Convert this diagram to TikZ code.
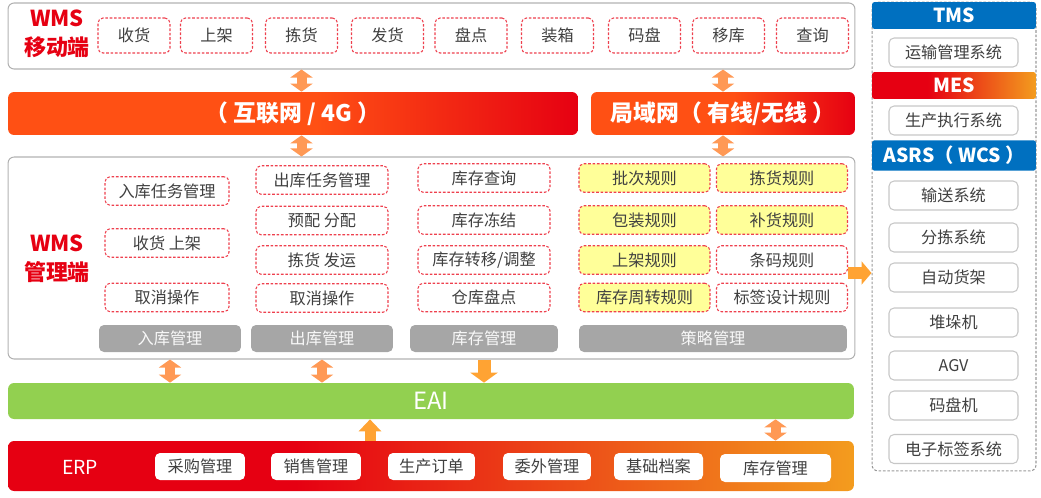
\documentclass[tikz,border=0pt]{standalone}
\usepackage{fontspec}
\setmainfont{Noto Sans CJK SC}
\usetikzlibrary{arrows.meta}

\definecolor{wmsred}{RGB}{230,0,18}
\definecolor{netorange}{RGB}{255,80,20}
\definecolor{erporange}{RGB}{243,156,30}
\definecolor{dashred}{RGB}{238,64,78}
\definecolor{boxtext}{RGB}{64,64,64}
\definecolor{panelgray}{RGB}{178,178,178}
\definecolor{tabgray}{RGB}{166,166,166}
\definecolor{ruleyellow}{RGB}{255,255,153}
\definecolor{eaigreen}{RGB}{146,208,80}
\definecolor{tmsblue}{RGB}{0,112,192}
\definecolor{twinarrow}{RGB}{255,153,85}
\definecolor{onearrow}{RGB}{255,163,51}

\pgfdeclarehorizontalshading{netshade}{100bp}{color(0bp)=(netorange); color(25bp)=(netorange); color(52bp)=(netorange); color(75bp)=(wmsred); color(100bp)=(wmsred)}
\pgfdeclarehorizontalshading{erpshade}{100bp}{color(0bp)=(wmsred); color(25bp)=(wmsred); color(42bp)=(wmsred); color(75bp)=(erporange); color(100bp)=(erporange)}

\begin{document}
\begin{tikzpicture}[
    x=0.02cm, y=-0.02cm,
    every node/.style={font=\fontsize{9.2}{11}\selectfont, text=boxtext},
    panel/.style={draw=panelgray, line width=0.6pt, rounded corners=0.12cm, minimum width=16.94cm},
    headtext/.style={font=\fontsize{12.5}{16.5}\selectfont\bfseries, text=wmsred, align=center},
    opbox/.style={draw=dashred, line width=0.6pt, dash pattern=on 1.5pt off 1pt, rounded corners=0.1cm, fill=white, minimum width=1.44cm, minimum height=0.70cm},
    taskbox/.style={opbox, minimum height=0.57cm},
    rulebox/.style={taskbox, fill=ruleyellow, minimum width=2.62cm},
    tabbar/.style={fill=tabgray, rounded corners=0.1cm, minimum height=0.54cm, text=white!95!gray},
    netbar/.style={shading=netshade, rounded corners=0.12cm, minimum height=0.86cm, font=\fontsize{13}{15}\selectfont\bfseries, text=white},
    erpbox/.style={fill=white, rounded corners=0.1cm, minimum height=0.54cm},
    syshead/.style={rounded corners=1.5pt, minimum width=3.28cm, minimum height=0.54cm, font=\fontsize{11}{13}\selectfont\bfseries, text=white},
    sysbox/.style={draw=black!22, line width=0.6pt, rounded corners=0.1cm, fill=white, minimum width=2.58cm, minimum height=0.58cm},
    fatboth/.style={draw=twinarrow, line width=0.2cm, {Triangle[width=0.44cm,length=0.16cm]}-{Triangle[width=0.44cm,length=0.16cm]}},
    fatone/.style={draw=onearrow, line width=0.24cm, -{Triangle[width=0.5cm,length=0.2cm]}}
]
\useasboundingbox (0,0) rectangle (1041,497);

% WMS mobile side
\node[panel, minimum height=1.32cm] (mobile) at (431.5,36) {};
\node[headtext] (mobiletitle) at (57,34) {WMS\\移动端};
\foreach \x/\t [count=\i] in {134/收货, 216.5/上架, 301.5/拣货, 387.5/发货, 471/盘点, 557.5/装箱, 644.5/码盘, 728.5/移库, 812.5/查询}
    \node[opbox] (m\i) at (\x,35.5) {\t};

% networks
\node[netbar, minimum width=11.4cm] (inet) at (293,113.5) {（ 互联网 / 4G ）};
\node[netbar, minimum width=5.28cm] (lan) at (723,113.5) {局域网（ 有线/无线 ）};

% WMS management side
\node[panel, minimum height=4.04cm] (wmsm) at (431.5,258) {};
\node[headtext] (wmsmtitle) at (57,259) {WMS\\管理端};

\node[taskbox, minimum width=2.48cm] (in1) at (167,191) {入库任务管理};
\node[taskbox, minimum width=2.48cm] (in2) at (167,243) {收货 上架};
\node[taskbox, minimum width=2.48cm] (in3) at (167,297.5) {取消操作};

\node[taskbox, minimum width=2.64cm] (out1) at (322,180) {出库任务管理};
\node[taskbox, minimum width=2.64cm] (out2) at (322,220.5) {预配 分配};
\node[taskbox, minimum width=2.64cm] (out3) at (322,260) {拣货 发运};
\node[taskbox, minimum width=2.64cm] (out4) at (322,298) {取消操作};

\node[taskbox, minimum width=2.64cm] (inv1) at (484,178) {库存查询};
\node[taskbox, minimum width=2.64cm] (inv2) at (484,220) {库存冻结};
\node[taskbox, minimum width=2.64cm] (inv3) at (484,260) {库存转移/调整};
\node[taskbox, minimum width=2.64cm] (inv4) at (484,297.5) {仓库盘点};

\node[rulebox] (r1) at (644.5,178) {批次规则};
\node[rulebox] (r2) at (782,178) {拣货规则};
\node[rulebox] (r3) at (644.5,220) {包装规则};
\node[rulebox] (r4) at (782,220) {补货规则};
\node[rulebox] (r5) at (644.5,260) {上架规则};
\node[taskbox, minimum width=2.62cm] (r6) at (782,260) {条码规则};
\node[rulebox] (r7) at (644.5,297.5) {库存周转规则};
\node[taskbox, minimum width=2.62cm] (r8) at (782,297.5) {标签设计规则};

\node[tabbar, minimum width=2.84cm] (t1) at (170,338.5) {入库管理};
\node[tabbar, minimum width=2.84cm] (t2) at (322,338.5) {出库管理};
\node[tabbar, minimum width=2.96cm] (t3) at (484,338.5) {库存管理};
\node[tabbar, minimum width=5.36cm] (t4) at (713,338.5) {策略管理};

% EAI and ERP
\node[fill=eaigreen, rounded corners=0.12cm, minimum width=16.92cm, minimum height=0.72cm, text=white, font=\fontsize{13.5}{15}\selectfont] (eai) at (431,401) {EAI};
\node[shading=erpshade, rounded corners=0.12cm, minimum width=16.92cm, minimum height=1.0cm] (erp) at (431,466) {};
\node[text=white, font=\fontsize{11}{13}\selectfont] (erptitle) at (80,467) {ERP};
\node[erpbox, minimum width=1.8cm] (e1) at (200,466.5) {采购管理};
\node[erpbox, minimum width=1.8cm] (e2) at (316,466.5) {销售管理};
\node[erpbox, minimum width=1.74cm] (e3) at (431.5,466.5) {生产订单};
\node[erpbox, minimum width=1.76cm] (e4) at (547,466.5) {委外管理};
\node[erpbox, minimum width=1.78cm] (e5) at (658.5,466.5) {基础档案};
\node[erpbox, minimum width=2.22cm, minimum height=0.56cm] (e6) at (775.5,468) {库存管理};

% external systems
\node[draw=black!40, line width=0.6pt, dash pattern=on 1.5pt off 1pt, rounded corners=0.12cm, minimum width=3.28cm, minimum height=9.38cm] (rcol) at (954,236.5) {};
\node[syshead, fill=tmsblue] (tms) at (954,15.5) {TMS};
\node[sysbox] (s1) at (953.5,52.5) {运输管理系统};
\node[syshead, shading=erpshade] (mes) at (954,85.5) {MES};
\node[sysbox] (s2) at (953.5,120.5) {生产执行系统};
\node[syshead, fill=tmsblue] (asrs) at (954,155.5) {ASRS（ WCS ）};
\node[sysbox] (s3) at (953.5,195.5) {输送系统};
\node[sysbox] (s4) at (953.5,237.5) {分拣系统};
\node[sysbox] (s5) at (953.5,277.5) {自动货架};
\node[sysbox] (s6) at (953.5,322.5) {堆垛机};
\node[sysbox] (s7) at (953.5,365.5) {AGV};
\node[sysbox] (s8) at (953.5,405.5) {码盘机};
\node[sysbox] (s9) at (953.5,449) {电子标签系统};

% connectors
\coordinate (upx) at (370,441);
\coordinate (handoff) at (848,273);

\draw[fatboth] (m3.south |- mobile.south) -- (m3.south |- inet.north);
\draw[fatboth] (lan.north |- mobile.south) -- (lan.north);
\draw[fatboth] (m3.south |- inet.south) -- (m3.south |- wmsm.north);
\draw[fatboth] (lan.south) -- (lan.south |- wmsm.north);

\draw[fatboth] (t1.south |- wmsm.south) -- (t1.south |- eai.north);
\draw[fatboth] (t2.south |- wmsm.south) -- (t2.south |- eai.north);
\draw[fatone, line width=0.26cm, -{Triangle[width=0.54cm,length=0.2cm]}] (t3.south |- wmsm.south) -- (t3.south |- eai.north);

\draw[fatone, line width=0.22cm, -{Triangle[width=0.44cm,length=0.24cm]}] (upx |- erp.north) -- (upx |- eai.south);
\draw[fatboth] (e6.north |- erp.north) -- (e6.north |- eai.south);

\draw[fatone, -{Triangle[width=0.46cm,length=0.2cm]}] (handoff) -- (handoff -| rcol.west);

\end{tikzpicture}
\end{document}
